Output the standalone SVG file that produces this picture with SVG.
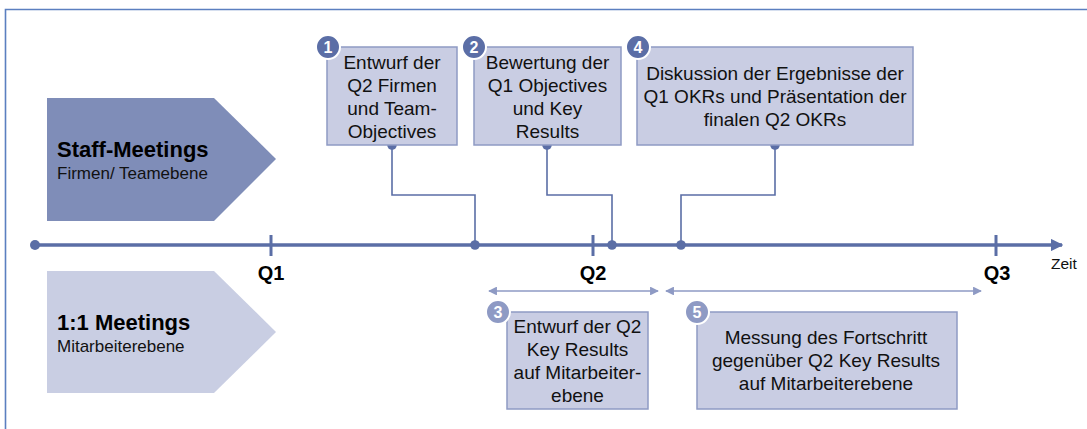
<svg xmlns="http://www.w3.org/2000/svg" width="1087" height="429" viewBox="0 0 1087 429">
  <defs>
    <style>
      .frame{fill:none;stroke:#5b7fc0;stroke-width:1.6}
      .box{fill:#c9cde3;stroke:#8e9ac4;stroke-width:1.5}
      .txt{font-family:"Liberation Sans",Arial,sans-serif;font-size:19px;fill:#111;text-anchor:middle}
      .title{font-family:"Liberation Sans",Arial,sans-serif;font-size:22px;font-weight:bold;fill:#000}
      .sub{font-family:"Liberation Sans",Arial,sans-serif;font-size:17px;fill:#111}
      .q{font-family:"Liberation Sans",Arial,sans-serif;font-size:20px;font-weight:bold;fill:#000;text-anchor:middle}
      .zeit{font-family:"Liberation Sans",Arial,sans-serif;font-size:15.5px;fill:#111}
      .badgeD{fill:#5b6ea6;stroke:#fff;stroke-width:2}
      .badgeL{fill:#8e9ac4;stroke:#fff;stroke-width:2}
      .num{font-family:"Liberation Sans",Arial,sans-serif;font-size:16px;font-weight:bold;fill:#fff;text-anchor:middle}
      .axis{stroke:#5b6ea6;stroke-width:3.5;fill:none}
      .tick{stroke:#5b6ea6;stroke-width:3;fill:none}
      .conn{stroke:#5b6ea6;stroke-width:1.6;fill:none}
      .dot{fill:#5b6ea6}
      .span{stroke:#8e9ac4;stroke-width:1.6;fill:none}
    </style>
    <marker id="axisHead" viewBox="0 0 10 10" refX="9" refY="5" markerWidth="3.6" markerHeight="3.6" markerUnits="strokeWidth" orient="auto">
      <path d="M0,0 L10,5 L0,10 Z" fill="#5b6ea6"/>
    </marker>
    <marker id="spanHead" viewBox="0 0 10 10" refX="9" refY="5" markerWidth="6.5" markerHeight="5.5" markerUnits="strokeWidth" orient="auto-start-reverse">
      <path d="M0,0 L10,5 L0,10 Z" fill="#8e9ac4"/>
    </marker>
  </defs>

  <rect width="1087" height="429" fill="#fff"/>
  <path class="frame" d="M5.5,429 L5.5,9.5 L1087,9.5"/>

  <g id="staff-meetings">
    <polygon points="47,98 214,98 276,159 214,221 47,221" fill="#7f8db8"/>
    <text class="title" x="57" y="157">Staff-Meetings</text>
    <text class="sub" x="57" y="179">Firmen/ Teamebene</text>
  </g>

  <g id="one-on-one-meetings">
    <polygon points="47,271 214,271 276,332 214,393 47,393" fill="#c9cee3"/>
    <text class="title" x="57" y="330">1:1 Meetings</text>
    <text class="sub" x="57" y="352">Mitarbeiterebene</text>
  </g>

  <g id="timeline">
    <line class="axis" x1="35" y1="245" x2="1062" y2="245" marker-end="url(#axisHead)"/>
    <circle class="dot" cx="35" cy="245" r="5"/>
    <line class="tick" x1="271" y1="235" x2="271" y2="256"/>
    <line class="tick" x1="593" y1="235" x2="593" y2="256"/>
    <line class="tick" x1="996" y1="235" x2="996" y2="256"/>
    <text class="q" x="271" y="280">Q1</text>
    <text class="q" x="593" y="280">Q2</text>
    <text class="q" x="997" y="280">Q3</text>
    <text class="zeit" x="1051" y="269">Zeit</text>
  </g>

  <g id="connectors">
    <polyline class="conn" points="392,145 392,195 475,195 475,245"/>
    <circle class="dot" cx="392" cy="145" r="4.8"/>
    <circle class="dot" cx="475" cy="245" r="4.8"/>
    <polyline class="conn" points="547,145 547,195 612,195 612,245"/>
    <circle class="dot" cx="547" cy="145" r="4.8"/>
    <circle class="dot" cx="612" cy="245" r="4.8"/>
    <polyline class="conn" points="775,145 775,195 681,195 681,245"/>
    <circle class="dot" cx="775" cy="145" r="4.8"/>
    <circle class="dot" cx="681" cy="245" r="4.8"/>
    <line class="span" x1="489" y1="291" x2="658" y2="291" marker-start="url(#spanHead)" marker-end="url(#spanHead)"/>
    <line class="span" x1="666" y1="291" x2="981" y2="291" marker-start="url(#spanHead)" marker-end="url(#spanHead)"/>
  </g>

  <g id="step1">
    <rect class="box" x="327" y="47" width="130" height="98"/>
    <text class="txt" x="392" y="69">Entwurf der</text>
    <text class="txt" x="392" y="92">Q2 Firmen</text>
    <text class="txt" x="392" y="115">und Team-</text>
    <text class="txt" x="392" y="138">Objectives</text>
    <circle class="badgeD" cx="328" cy="47" r="12"/>
    <text class="num" x="328" y="53">1</text>
  </g>

  <g id="step2">
    <rect class="box" x="474" y="47" width="147" height="98"/>
    <text class="txt" x="547.5" y="69">Bewertung der</text>
    <text class="txt" x="547.5" y="92">Q1 Objectives</text>
    <text class="txt" x="547.5" y="115">und Key</text>
    <text class="txt" x="547.5" y="138">Results</text>
    <circle class="badgeD" cx="474" cy="47" r="12"/>
    <text class="num" x="474" y="53">2</text>
  </g>

  <g id="step4">
    <rect class="box" x="637" y="47" width="276" height="98"/>
    <text class="txt" x="775" y="80">Diskussion der Ergebnisse der</text>
    <text class="txt" x="775" y="103">Q1 OKRs und Präsentation der</text>
    <text class="txt" x="775" y="126">finalen Q2 OKRs</text>
    <circle class="badgeD" cx="638" cy="47" r="12"/>
    <text class="num" x="638" y="53">4</text>
  </g>

  <g id="step3">
    <rect class="box" x="507" y="312" width="141" height="97"/>
    <text class="txt" x="577.5" y="333">Entwurf der Q2</text>
    <text class="txt" x="577.5" y="356">Key Results</text>
    <text class="txt" x="577.5" y="379">auf Mitarbeiter-</text>
    <text class="txt" x="577.5" y="402">ebene</text>
    <circle class="badgeL" cx="498" cy="312" r="12"/>
    <text class="num" x="498" y="318">3</text>
  </g>

  <g id="step5">
    <rect class="box" x="697" y="312" width="260" height="97"/>
    <text class="txt" x="826" y="344">Messung des Fortschritt</text>
    <text class="txt" x="826" y="367">gegenüber Q2 Key Results</text>
    <text class="txt" x="826" y="390">auf Mitarbeiterebene</text>
    <circle class="badgeL" cx="697" cy="312" r="12"/>
    <text class="num" x="697" y="318">5</text>
  </g>
</svg>
